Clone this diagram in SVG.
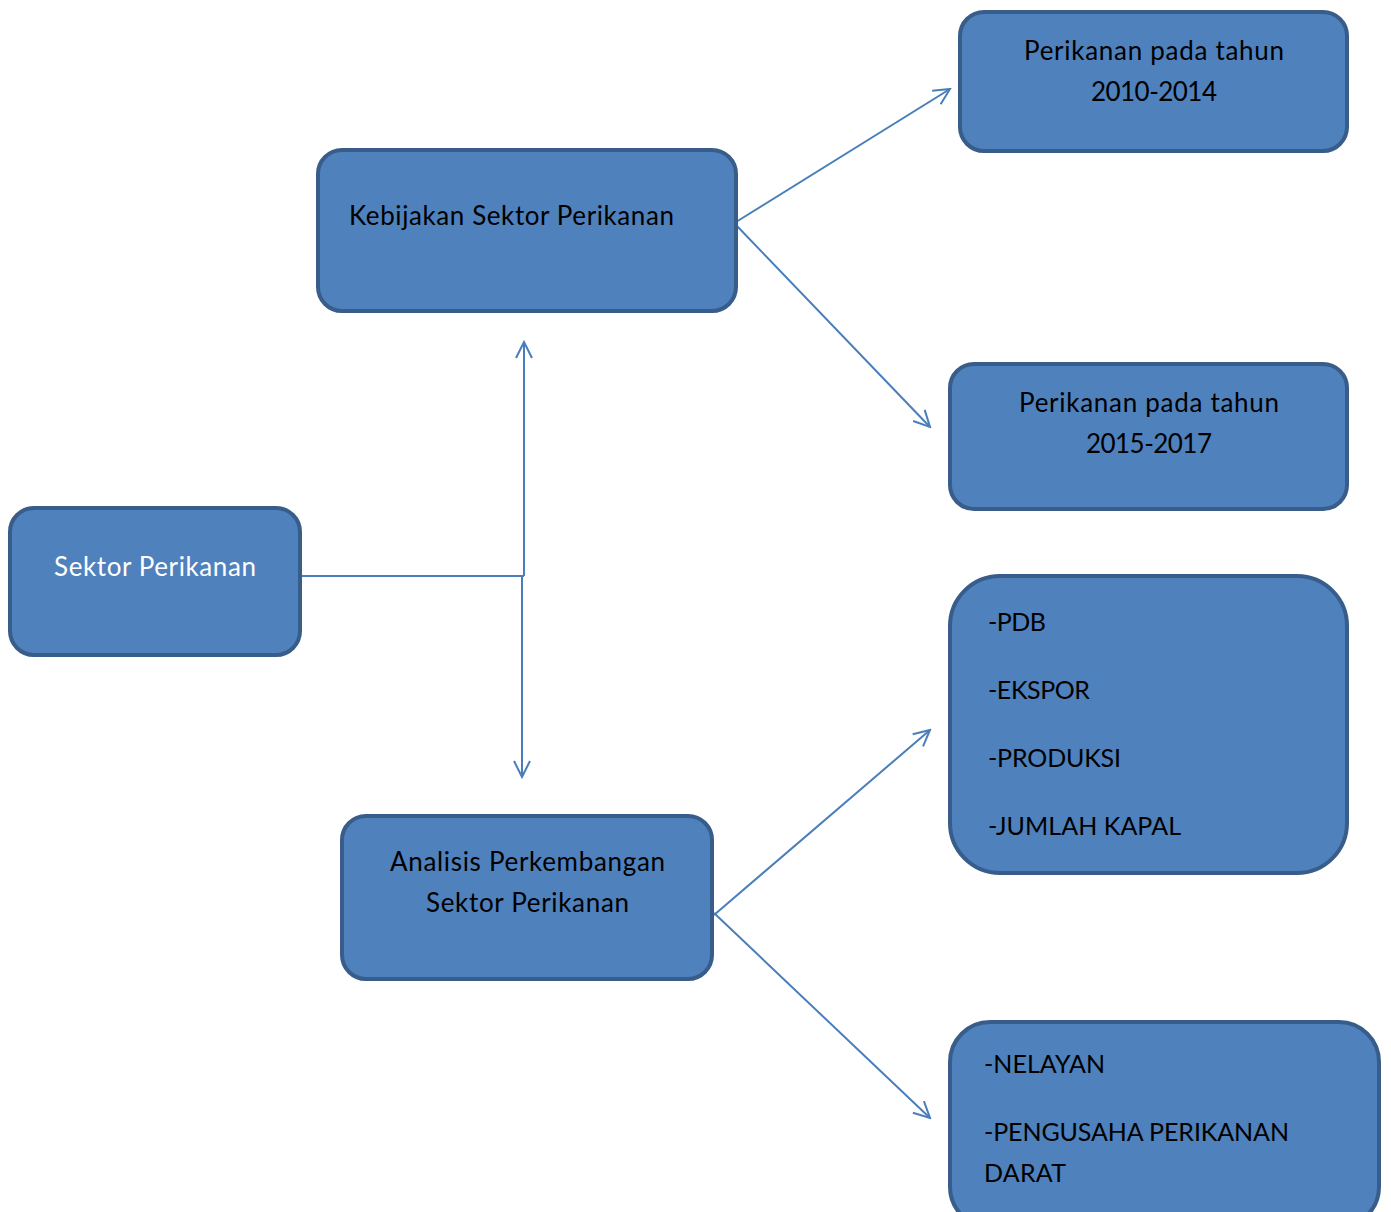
<svg xmlns="http://www.w3.org/2000/svg" width="1391" height="1212" viewBox="0 0 1391 1212">
<defs>
<style>
.box{fill:#4F81BD;stroke:#385D8A;stroke-width:4}
.t{font-family:Lato,"Liberation Sans",sans-serif;font-size:26px;fill:#000}
.u{font-size:25px}
.w{fill:#fff}
.c{stroke:#4A7EBB;stroke-width:2;fill:none}
</style>
<marker id="arr" viewBox="0 0 20 20" refX="18" refY="10" markerWidth="20" markerHeight="20" markerUnits="userSpaceOnUse" orient="auto">
<path d="M2,2 L18,10 L2,18" fill="none" stroke="#4A7EBB" stroke-width="2"/>
</marker>
</defs>
<rect width="1391" height="1212" fill="#fff"/>
<g id="connectors">
<path class="c" d="M300,576 H524"/>
<path class="c" d="M524,576 V342" marker-end="url(#arr)"/>
<path class="c" d="M522,576 V777" marker-end="url(#arr)"/>
<path class="c" d="M736,222 L950,89" marker-end="url(#arr)"/>
<path class="c" d="M736,225 L930,427" marker-end="url(#arr)"/>
<path class="c" d="M714,915 L930,730" marker-end="url(#arr)"/>
<path class="c" d="M714,913 L930,1118" marker-end="url(#arr)"/>
</g>
<g id="sektor">
<rect class="box" x="10" y="508" width="290" height="147" rx="24"/>
<text class="t w" x="54" y="576" textLength="202" lengthAdjust="spacing">Sektor Perikanan</text>
</g>
<g id="kebijakan">
<rect class="box" x="318" y="150" width="418" height="161" rx="24"/>
<text class="t" x="349" y="225" textLength="325" lengthAdjust="spacing">Kebijakan Sektor Perikanan</text>
</g>
<g id="p2010">
<rect class="box" x="960" y="12" width="387" height="139" rx="24"/>
<text class="t" x="1024" y="60" textLength="260" lengthAdjust="spacing">Perikanan pada tahun</text>
<text class="t" x="1091" y="101" textLength="126" lengthAdjust="spacing">2010-2014</text>
</g>
<g id="p2015">
<rect class="box" x="950" y="364" width="397" height="145" rx="24"/>
<text class="t" x="1019" y="412" textLength="260" lengthAdjust="spacing">Perikanan pada tahun</text>
<text class="t" x="1086" y="453" textLength="126" lengthAdjust="spacing">2015-2017</text>
</g>
<g id="indikator">
<rect class="box" x="950" y="576" width="397" height="297" rx="50"/>
<text class="t u" x="988" y="631" textLength="58" lengthAdjust="spacing">-PDB</text>
<text class="t u" x="988" y="699" textLength="102" lengthAdjust="spacing">-EKSPOR</text>
<text class="t u" x="988" y="767" textLength="133" lengthAdjust="spacing">-PRODUKSI</text>
<text class="t u" x="988" y="835" textLength="193" lengthAdjust="spacing">-JUMLAH KAPAL</text>
</g>
<g id="analisis">
<rect class="box" x="342" y="816" width="370" height="163" rx="24"/>
<text class="t" x="390" y="871" textLength="275" lengthAdjust="spacing">Analisis Perkembangan</text>
<text class="t" x="426" y="912" textLength="203" lengthAdjust="spacing">Sektor Perikanan</text>
</g>
<g id="pelaku">
<rect class="box" x="950" y="1022" width="429" height="205" rx="40"/>
<text class="t u" x="984" y="1073" textLength="121" lengthAdjust="spacing">-NELAYAN</text>
<text class="t u" x="984" y="1141" textLength="305" lengthAdjust="spacing">-PENGUSAHA PERIKANAN</text>
<text class="t u" x="984" y="1182" textLength="82" lengthAdjust="spacing">DARAT</text>
</g>
</svg>
